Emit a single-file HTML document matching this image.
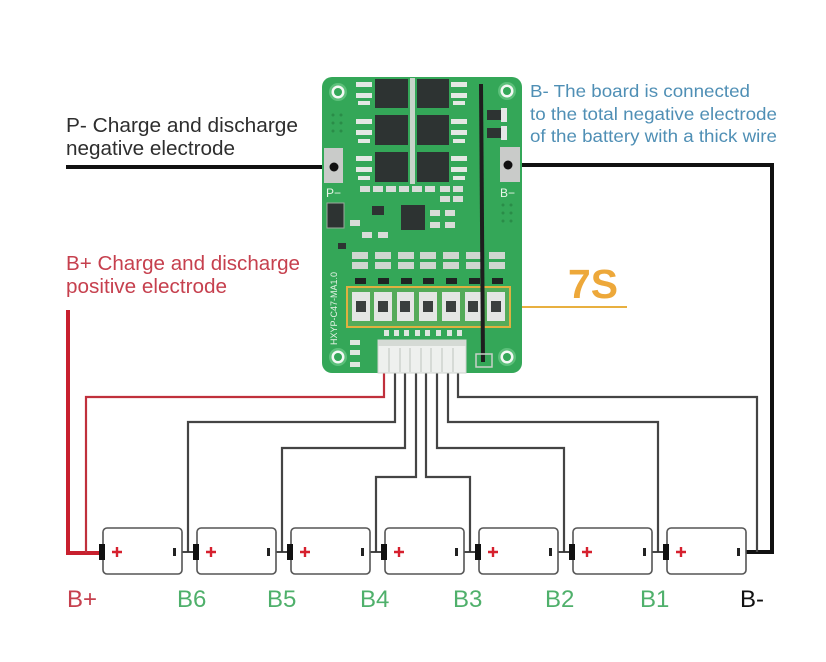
<!DOCTYPE html>
<html><head><meta charset="utf-8"><style>
html,body{margin:0;padding:0;background:#fff;}
svg{display:block;}
text{font-family:"Liberation Sans",Arial,sans-serif;}
</style></head><body>
<svg width="826" height="662" viewBox="0 0 826 662" xmlns="http://www.w3.org/2000/svg">
<rect width="826" height="662" fill="#fff"/>

<!-- Labels -->
<text x="66" y="132" font-size="20.5" fill="#2e2e2e" textLength="232" lengthAdjust="spacingAndGlyphs">P- Charge and discharge</text>
<text x="66" y="155" font-size="20.5" fill="#2e2e2e" textLength="169" lengthAdjust="spacingAndGlyphs">negative electrode</text>
<text x="66" y="270" font-size="20.5" fill="#c6404e" textLength="234" lengthAdjust="spacingAndGlyphs">B+ Charge and discharge</text>
<text x="66" y="293" font-size="20.5" fill="#c6404e" textLength="161" lengthAdjust="spacingAndGlyphs">positive electrode</text>

<text x="530" y="97" font-size="17.5" fill="#4f8fb5" textLength="220" lengthAdjust="spacingAndGlyphs">B- The board is connected</text>
<text x="530" y="120" font-size="17.5" fill="#4f8fb5" textLength="247" lengthAdjust="spacingAndGlyphs">to the total negative electrode</text>
<text x="530" y="142" font-size="17.5" fill="#4f8fb5" textLength="247" lengthAdjust="spacingAndGlyphs">of the battery with a thick wire</text>

<text x="568" y="298" font-size="41" font-weight="bold" fill="#eda83a" textLength="50" lengthAdjust="spacingAndGlyphs">7S</text>
<line x1="510" y1="307" x2="627" y2="307" stroke="#e8b040" stroke-width="2"/>

<!-- Main wires -->
<line x1="66" y1="167" x2="334" y2="167" stroke="#111" stroke-width="4"/>
<polyline points="508,165 772,165 772,552 746,552" fill="none" stroke="#111" stroke-width="4"/>
<polyline points="68,310 68,553 99,553" fill="none" stroke="#c8202e" stroke-width="4"/>

<!-- Balance wires -->
<g fill="none" stroke-width="2.2">
<polyline points="384,370 384,397 86,397 86,553" stroke="#c0303c"/>
<polyline points="395,370 395,422 188,422 188,552" stroke="#444"/>
<polyline points="405,370 405,448 282,448 282,552" stroke="#444"/>
<polyline points="416,370 416,477 376,477 376,552" stroke="#444"/>
<polyline points="426,370 426,477 470,477 470,552" stroke="#444"/>
<polyline points="437,370 437,448 564,448 564,552" stroke="#444"/>
<polyline points="448,370 448,422 658,422 658,552" stroke="#444"/>
<polyline points="458,370 458,397 757,397 757,552" stroke="#444"/>
</g>

<!-- Batteries -->
<g id="bats">
<g transform="translate(103,0)"><line x1="79" y1="552" x2="90" y2="552" stroke="#333" stroke-width="1.8"/><rect x="0" y="528" width="79" height="46" rx="4" fill="#fff" stroke="#555" stroke-width="1.6"/><rect x="-4" y="544" width="6" height="16" fill="#111"/><path d="M9 552h10M14 547v10" stroke="#d6202e" stroke-width="2.4"/><rect x="70" y="548" width="3" height="8" fill="#222"/></g>
<g transform="translate(197,0)"><line x1="79" y1="552" x2="90" y2="552" stroke="#333" stroke-width="1.8"/><rect x="0" y="528" width="79" height="46" rx="4" fill="#fff" stroke="#555" stroke-width="1.6"/><rect x="-4" y="544" width="6" height="16" fill="#111"/><path d="M9 552h10M14 547v10" stroke="#d6202e" stroke-width="2.4"/><rect x="70" y="548" width="3" height="8" fill="#222"/></g>
<g transform="translate(291,0)"><line x1="79" y1="552" x2="90" y2="552" stroke="#333" stroke-width="1.8"/><rect x="0" y="528" width="79" height="46" rx="4" fill="#fff" stroke="#555" stroke-width="1.6"/><rect x="-4" y="544" width="6" height="16" fill="#111"/><path d="M9 552h10M14 547v10" stroke="#d6202e" stroke-width="2.4"/><rect x="70" y="548" width="3" height="8" fill="#222"/></g>
<g transform="translate(385,0)"><line x1="79" y1="552" x2="90" y2="552" stroke="#333" stroke-width="1.8"/><rect x="0" y="528" width="79" height="46" rx="4" fill="#fff" stroke="#555" stroke-width="1.6"/><rect x="-4" y="544" width="6" height="16" fill="#111"/><path d="M9 552h10M14 547v10" stroke="#d6202e" stroke-width="2.4"/><rect x="70" y="548" width="3" height="8" fill="#222"/></g>
<g transform="translate(479,0)"><line x1="79" y1="552" x2="90" y2="552" stroke="#333" stroke-width="1.8"/><rect x="0" y="528" width="79" height="46" rx="4" fill="#fff" stroke="#555" stroke-width="1.6"/><rect x="-4" y="544" width="6" height="16" fill="#111"/><path d="M9 552h10M14 547v10" stroke="#d6202e" stroke-width="2.4"/><rect x="70" y="548" width="3" height="8" fill="#222"/></g>
<g transform="translate(573,0)"><line x1="79" y1="552" x2="90" y2="552" stroke="#333" stroke-width="1.8"/><rect x="0" y="528" width="79" height="46" rx="4" fill="#fff" stroke="#555" stroke-width="1.6"/><rect x="-4" y="544" width="6" height="16" fill="#111"/><path d="M9 552h10M14 547v10" stroke="#d6202e" stroke-width="2.4"/><rect x="70" y="548" width="3" height="8" fill="#222"/></g>
<g transform="translate(667,0)"><rect x="0" y="528" width="79" height="46" rx="4" fill="#fff" stroke="#555" stroke-width="1.6"/><rect x="-4" y="544" width="6" height="16" fill="#111"/><path d="M9 552h10M14 547v10" stroke="#d6202e" stroke-width="2.4"/><rect x="70" y="548" width="3" height="8" fill="#222"/></g>
</g>

<!-- Bottom labels -->
<g font-size="24">
<text x="67" y="607" fill="#c6404e">B+</text>
<text x="177" y="607" fill="#4fb06b">B6</text>
<text x="267" y="607" fill="#4fb06b">B5</text>
<text x="360" y="607" fill="#4fb06b">B4</text>
<text x="453" y="607" fill="#4fb06b">B3</text>
<text x="545" y="607" fill="#4fb06b">B2</text>
<text x="640" y="607" fill="#4fb06b">B1</text>
<text x="740" y="607" fill="#111">B-</text>
</g>

<!-- PCB -->
<rect x="322" y="77" width="200" height="296" rx="10" fill="#34a758"/>
<!-- mounting holes -->
<g>
<circle cx="338" cy="92" r="9" fill="#5cc07a"/><circle cx="338" cy="92" r="6.5" fill="#f4f8f4"/><circle cx="338" cy="92" r="4" fill="#34a758"/>
<circle cx="507" cy="91" r="9" fill="#5cc07a"/><circle cx="507" cy="91" r="6.5" fill="#f4f8f4"/><circle cx="507" cy="91" r="4" fill="#34a758"/>
<circle cx="338" cy="357" r="9" fill="#5cc07a"/><circle cx="338" cy="357" r="6.5" fill="#f4f8f4"/><circle cx="338" cy="357" r="4" fill="#34a758"/>
<circle cx="507" cy="357" r="9" fill="#5cc07a"/><circle cx="507" cy="357" r="6.5" fill="#f4f8f4"/><circle cx="507" cy="357" r="4" fill="#34a758"/>
</g>
<!-- pads -->
<rect x="324" y="148" width="19" height="35" fill="#c9cbc9"/>
<rect x="500" y="147" width="20" height="35" fill="#c9cbc9"/>
<circle cx="334" cy="167" r="4.5" fill="#111"/>
<circle cx="508" cy="165" r="4.5" fill="#111"/>
<text x="326" y="197" font-size="12" fill="#e8f5e8">P−</text>
<text x="500" y="197" font-size="12" fill="#e8f5e8">B−</text>

<!-- via dots -->
<g fill="#2a8c48">
<circle cx="333" cy="115" r="1.5"/><circle cx="341" cy="115" r="1.5"/><circle cx="333" cy="123" r="1.5"/><circle cx="341" cy="123" r="1.5"/><circle cx="333" cy="131" r="1.5"/><circle cx="341" cy="131" r="1.5"/>
<circle cx="503" cy="205" r="1.5"/><circle cx="511" cy="205" r="1.5"/><circle cx="503" cy="213" r="1.5"/><circle cx="511" cy="213" r="1.5"/><circle cx="503" cy="221" r="1.5"/><circle cx="511" cy="221" r="1.5"/>
</g>

<!-- MOSFET leads -->
<g fill="#e4e8e4">
<rect x="356" y="82" width="16" height="5"/><rect x="356" y="93" width="16" height="5"/><rect x="358" y="101" width="12" height="4"/>
<rect x="356" y="119" width="16" height="5"/><rect x="356" y="130" width="16" height="5"/><rect x="358" y="139" width="12" height="4"/>
<rect x="356" y="156" width="16" height="5"/><rect x="356" y="167" width="16" height="5"/><rect x="358" y="176" width="12" height="4"/>
<rect x="451" y="82" width="16" height="5"/><rect x="451" y="93" width="16" height="5"/><rect x="453" y="101" width="12" height="4"/>
<rect x="451" y="119" width="16" height="5"/><rect x="451" y="130" width="16" height="5"/><rect x="453" y="139" width="12" height="4"/>
<rect x="451" y="156" width="16" height="5"/><rect x="451" y="167" width="16" height="5"/><rect x="453" y="176" width="12" height="4"/>
<rect x="410" y="78" width="5" height="106" fill="#c8d4ca"/>
</g>
<!-- MOSFETs -->
<g fill="#2d3332">
<rect x="375" y="79" width="33" height="29"/><rect x="417" y="79" width="32" height="29"/>
<rect x="375" y="115" width="33" height="30"/><rect x="417" y="115" width="32" height="30"/>
<rect x="375" y="152" width="33" height="30"/><rect x="417" y="152" width="32" height="30"/>
</g>
<!-- right small parts -->
<rect x="487" y="110" width="14" height="10" fill="#2d3332"/><rect x="501" y="108" width="6" height="14" fill="#e6e6e6"/>
<rect x="487" y="128" width="14" height="10" fill="#2d3332"/><rect x="501" y="126" width="6" height="14" fill="#e6e6e6"/>

<!-- small components row below mosfets -->
<g fill="#d8dcd8">
<rect x="360" y="186" width="10" height="6"/><rect x="373" y="186" width="10" height="6"/><rect x="386" y="186" width="10" height="6"/><rect x="399" y="186" width="10" height="6"/><rect x="412" y="186" width="10" height="6"/><rect x="425" y="186" width="10" height="6"/><rect x="440" y="186" width="10" height="6"/><rect x="453" y="186" width="10" height="6"/>
<rect x="440" y="196" width="10" height="6"/><rect x="453" y="196" width="10" height="6"/>
<rect x="430" y="210" width="10" height="6"/><rect x="445" y="210" width="10" height="6"/><rect x="430" y="222" width="10" height="6"/><rect x="445" y="222" width="10" height="6"/>
<rect x="350" y="220" width="10" height="6"/><rect x="362" y="232" width="10" height="6"/><rect x="378" y="232" width="10" height="6"/>
</g>
<!-- chips -->
<rect x="327" y="203" width="17" height="25" fill="#2d3332" stroke="#9aa89c" stroke-width="1"/>
<rect x="372" y="206" width="12" height="9" fill="#2d3332"/>
<rect x="401" y="205" width="24" height="25" fill="#2d3332"/>
<rect x="338" y="243" width="8" height="6" fill="#2d3332"/>

<!-- resistor rows -->
<g fill="#cfd6d0">
<rect x="352" y="252" width="16" height="7"/><rect x="352" y="262" width="16" height="7"/>
<rect x="375" y="252" width="16" height="7"/><rect x="375" y="262" width="16" height="7"/>
<rect x="398" y="252" width="16" height="7"/><rect x="398" y="262" width="16" height="7"/>
<rect x="420" y="252" width="16" height="7"/><rect x="420" y="262" width="16" height="7"/>
<rect x="443" y="252" width="16" height="7"/><rect x="443" y="262" width="16" height="7"/>
<rect x="466" y="252" width="16" height="7"/><rect x="466" y="262" width="16" height="7"/>
<rect x="489" y="252" width="16" height="7"/><rect x="489" y="262" width="16" height="7"/>
</g>
<g fill="#1f2423">
<rect x="355" y="278" width="11" height="6"/><rect x="378" y="278" width="11" height="6"/><rect x="401" y="278" width="11" height="6"/><rect x="423" y="278" width="11" height="6"/><rect x="446" y="278" width="11" height="6"/><rect x="469" y="278" width="11" height="6"/><rect x="492" y="278" width="11" height="6"/>
</g>

<!-- highlighted 7 resistors -->
<rect x="347" y="287" width="163" height="40" fill="#e8c060" fill-opacity="0.18" stroke="#e0b040" stroke-width="2"/>
<g>
<rect x="352" y="292" width="18" height="29" fill="#e4e6e4"/><rect x="356" y="301" width="10" height="11" fill="#3a3f3e"/>
<rect x="374" y="292" width="18" height="29" fill="#e4e6e4"/><rect x="378" y="301" width="10" height="11" fill="#3a3f3e"/>
<rect x="397" y="292" width="17" height="29" fill="#e4e6e4"/><rect x="400" y="301" width="10" height="11" fill="#3a3f3e"/>
<rect x="419" y="292" width="18" height="29" fill="#e4e6e4"/><rect x="423" y="301" width="10" height="11" fill="#3a3f3e"/>
<rect x="442" y="292" width="18" height="29" fill="#e4e6e4"/><rect x="446" y="301" width="10" height="11" fill="#3a3f3e"/>
<rect x="465" y="292" width="17" height="29" fill="#e4e6e4"/><rect x="468" y="301" width="10" height="11" fill="#3a3f3e"/>
<rect x="487" y="292" width="18" height="29" fill="#e4e6e4"/><rect x="491" y="301" width="10" height="11" fill="#3a3f3e"/>
</g>
<!-- tiny pads -->
<g fill="#dfe6df">
<rect x="384" y="330" width="5" height="6"/><rect x="394" y="330" width="5" height="6"/><rect x="404" y="330" width="5" height="6"/><rect x="415" y="330" width="5" height="6"/><rect x="425" y="330" width="5" height="6"/><rect x="436" y="330" width="5" height="6"/><rect x="447" y="330" width="5" height="6"/><rect x="457" y="330" width="5" height="6"/>
<rect x="350" y="340" width="10" height="5"/><rect x="350" y="350" width="10" height="5"/><rect x="350" y="362" width="10" height="5"/>
</g>
<text transform="translate(337,345) rotate(-90)" font-size="9" fill="#e6f2e6">HXYP-C47-MA1.0</text>

<!-- connector -->
<rect x="378" y="340" width="88" height="33" fill="#eef0ee" stroke="#cfd3cf" stroke-width="1"/>
<rect x="378" y="340" width="88" height="6" fill="#d5dad5"/>
<g stroke="#bfc4bf" stroke-width="1">
<line x1="389" y1="348" x2="389" y2="372"/><line x1="400" y1="348" x2="400" y2="372"/><line x1="410" y1="348" x2="410" y2="372"/><line x1="421" y1="348" x2="421" y2="372"/><line x1="431" y1="348" x2="431" y2="372"/><line x1="442" y1="348" x2="442" y2="372"/><line x1="453" y1="348" x2="453" y2="372"/>
</g>

<!-- vertical black wire on PCB -->
<line x1="481" y1="84" x2="483" y2="362" stroke="#1e1e1e" stroke-width="4"/>
<rect x="476" y="354" width="16" height="13" fill="none" stroke="#c8d0c8" stroke-width="1.5"/>
</svg>
</body></html>
